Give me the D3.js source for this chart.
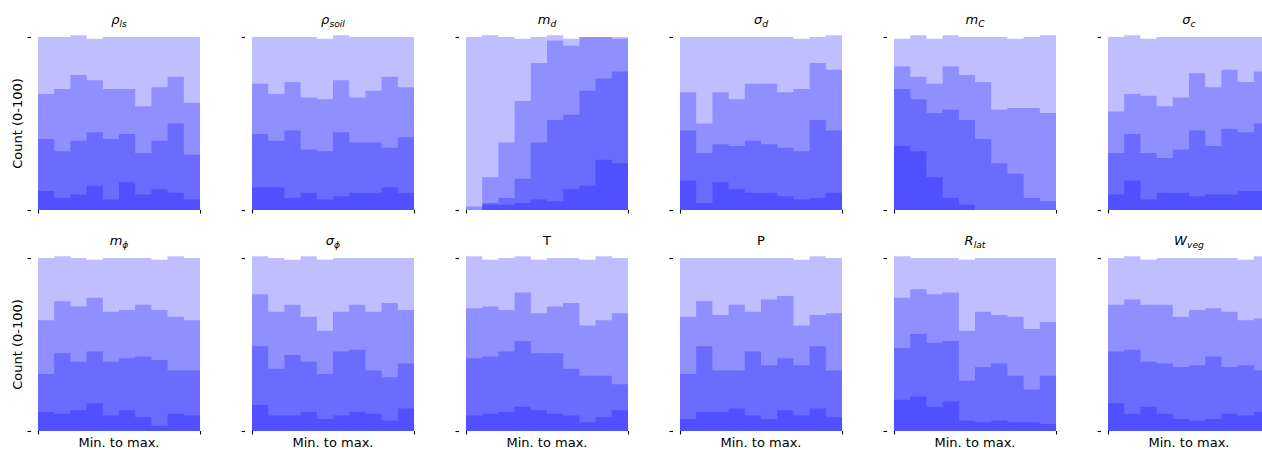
<!DOCTYPE html>
<html lang="en">
<head>
<meta charset="UTF-8">
<title>Parameter histograms</title>
<style>
  body { margin: 0; background: #fff; }
  svg { display: block; font-family: "DejaVu Sans", sans-serif; }
</style>
</head>
<body>
<svg id="chart" width="1262" height="450"></svg>
<script src="https://d3js.org/d3.v7.min.js"></script>
<script>
// panel titles: [symbol, subscript, italic]
const params = [
  ["ρ", "ls", true], ["ρ", "soil", true], ["m", "d", true], ["σ", "d", true], ["m", "C", true], ["σ", "c", true],
  ["m", "ϕ", true], ["σ", "ϕ", true], ["T", "", false], ["P", "", false], ["R", "lat", true], ["W", "veg", true]
];

// counts per bin (10 bins, min to max), one row per parameter, classes from bottom to top
const class1 = [
  [11, 7, 9, 14, 6, 16, 9, 12, 10, 6],
  [13, 13, 7, 10, 6, 8, 10, 10, 13, 10],
  [0, 3, 3, 4, 6, 5, 12, 14, 29, 27],
  [17, 4, 16, 12, 10, 10, 8, 6, 7, 10],
  [37, 34, 19, 7, 3, 0, 0, 0, 0, 0],
  [9, 17, 6, 10, 10, 8, 9, 9, 11, 11],
  [11, 10, 12, 16, 9, 12, 8, 3, 10, 9],
  [15, 9, 9, 11, 7, 9, 11, 10, 6, 13],
  [9, 10, 11, 14, 12, 10, 9, 5, 8, 12],
  [7, 11, 11, 13, 9, 7, 12, 9, 13, 8],
  [18, 20, 14, 17, 6, 5, 6, 5, 5, 4],
  [16, 10, 14, 10, 7, 6, 7, 10, 9, 11]
];
const class2 = [
  [30, 27, 31, 31, 35, 28, 24, 28, 40, 26],
  [31, 27, 39, 25, 28, 37, 29, 29, 23, 32],
  [0, 1, 4, 14, 33, 47, 43, 55, 47, 53],
  [29, 29, 22, 25, 30, 28, 28, 28, 45, 36],
  [33, 30, 37, 51, 49, 41, 27, 21, 7, 5],
  [24, 27, 27, 20, 25, 38, 28, 38, 34, 39],
  [22, 35, 28, 30, 31, 30, 35, 38, 25, 26],
  [34, 27, 35, 29, 26, 37, 36, 25, 25, 26],
  [33, 33, 35, 38, 33, 35, 27, 27, 24, 15],
  [26, 38, 24, 22, 37, 31, 30, 29, 36, 27],
  [30, 36, 37, 35, 23, 32, 33, 27, 19, 28],
  [30, 37, 26, 29, 30, 32, 36, 27, 29, 24]
];
const class3 = [
  [26, 36, 38, 30, 29, 26, 27, 31, 27, 30],
  [29, 27, 28, 30, 30, 30, 26, 30, 41, 29],
  [2, 15, 32, 45, 46, 46, 40, 31, 24, 19],
  [22, 17, 30, 27, 33, 35, 32, 36, 33, 35],
  [13, 13, 17, 25, 26, 33, 31, 38, 52, 51],
  [24, 23, 33, 30, 30, 33, 34, 34, 29, 30],
  [31, 30, 32, 31, 29, 28, 30, 29, 31, 29],
  [30, 33, 29, 26, 25, 23, 26, 34, 43, 31],
  [29, 29, 24, 28, 23, 27, 38, 29, 32, 41],
  [33, 26, 32, 38, 23, 38, 36, 23, 18, 33],
  [29, 26, 28, 28, 29, 32, 28, 34, 35, 31],
  [27, 29, 33, 34, 29, 32, 28, 32, 26, 30]
];
const class4 = [
  [33, 30, 23, 24, 30, 30, 40, 29, 23, 38],
  [27, 33, 26, 35, 35, 26, 35, 31, 23, 29],
  [98, 82, 61, 36, 15, 3, 4, 0, 0, 1],
  [32, 50, 32, 36, 27, 27, 32, 29, 15, 20],
  [16, 24, 26, 18, 22, 26, 42, 40, 41, 45],
  [43, 34, 33, 40, 35, 21, 29, 19, 26, 20],
  [36, 26, 28, 22, 31, 30, 27, 29, 35, 36],
  [22, 31, 26, 35, 41, 31, 27, 31, 26, 30],
  [30, 27, 30, 21, 31, 28, 26, 38, 37, 32],
  [34, 25, 33, 27, 31, 24, 22, 38, 34, 32],
  [24, 18, 21, 20, 41, 31, 33, 34, 41, 37],
  [27, 25, 26, 27, 34, 30, 29, 31, 35, 36]
];
const yTicks = [0, 100];
const xLabel = "Min. to max.";
const yLabel = "Count (0-100)";

const svg = d3.select("#chart");
const plotW = 162, plotH = 173;
const colStep = 214, rowStep = 221;
const left0 = 38, top0 = 37;
const nBins = 10;

const x = d3.scaleLinear().domain([0, nBins]).range([0, plotW]);
const y = d3.scaleLinear().domain([0, 100]).range([plotH, 0]);

params.forEach((p, pi) => {
  const col = pi % 6, row = Math.floor(pi / 6);
  const g = svg.append("g")
    .attr("transform", `translate(${left0 + col * colStep},${top0 + row * rowStep})`);

  const rows = d3.range(nBins).map(b => [class1[pi][b], class2[pi][b], class3[pi][b], class4[pi][b]]);
  const stacked = d3.stack().keys([0, 1, 2, 3])(rows);

  // each class drawn as cumulative step histogram with alpha, like overlapping stepfilled hists
  const area = d3.area()
    .curve(d3.curveStepAfter)
    .x((d, i) => x(i))
    .y0(y(0))
    .y1(d => y(d[1]));

  stacked.slice().reverse().forEach(layer => {
    const pts = layer.concat([layer[nBins - 1]]);
    g.append("path")
      .attr("d", area(pts))
      .attr("fill", "blue")
      .attr("fill-opacity", 0.25);
  });

  // y ticks (no labels), axis offset to the left
  const yAxis = g.append("g")
    .attr("transform", "translate(-7,0)")
    .call(d3.axisLeft(y).tickValues(yTicks).tickSize(3.5).tickFormat(""));
  yAxis.select(".domain").remove();
  yAxis.selectAll("line").attr("stroke", "#000").attr("stroke-width", 1.1);

  const xAxis = g.append("g")
    .attr("transform", `translate(0,${plotH})`)
    .call(d3.axisBottom(x).tickValues([0, nBins]).tickSize(3.5).tickFormat(""));
  xAxis.select(".domain").remove();
  xAxis.selectAll("line").attr("stroke", "#000").attr("stroke-width", 1.1);

  // title
  const t = g.append("text")
    .attr("x", plotW / 2)
    .attr("y", -13)
    .attr("text-anchor", "middle")
    .attr("font-size", 13)
    .attr("fill", "#000");
  t.append("tspan")
    .attr("font-style", p[2] ? "italic" : "normal")
    .text(p[0]);
  if (p[1]) {
    t.append("tspan")
      .attr("font-style", "italic")
      .attr("font-size", 9.2)
      .attr("dy", 3)
      .text(p[1]);
  }

  if (row === 1) {
    g.append("text")
      .attr("x", plotW / 2)
      .attr("y", plotH + 16)
      .attr("text-anchor", "middle")
      .attr("font-size", 13)
      .text(xLabel);
  }
  if (col === 0) {
    g.append("text")
      .attr("transform", `translate(${22 - left0},${plotH / 2}) rotate(-90)`)
      .attr("text-anchor", "middle")
      .attr("font-size", 13)
      .text(yLabel);
  }
});
</script>
</body>
</html>
